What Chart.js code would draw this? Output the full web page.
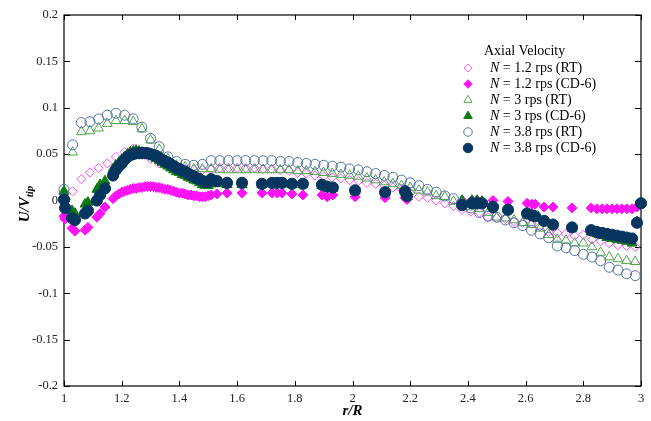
<!DOCTYPE html>
<html>
<head>
<meta charset="utf-8">
<script src="https://cdn.jsdelivr.net/npm/chart.js@4.4.0/dist/chart.umd.min.js"></script>
<style>
  html, body { margin: 0; padding: 0; background: #ffffff; }
  #wrap { width: 651px; height: 421px; position: relative; }
</style>
</head>
<body>
<div id="wrap"><canvas id="c" width="651" height="421"></canvas></div>
<script>
// Radial stations r/R for the RT (Rushton turbine) profiles
const rRT = [1.00, 1.03, 1.06, 1.09, 1.12, 1.15, 1.18, 1.21, 1.24, 1.27,
             1.30, 1.33, 1.36, 1.39, 1.42, 1.45, 1.48, 1.51, 1.54, 1.57,
             1.60, 1.63, 1.66, 1.69, 1.72, 1.75, 1.78, 1.81, 1.84, 1.87,
             1.90, 1.93, 1.96, 1.99, 2.02, 2.05, 2.08, 2.11, 2.14, 2.17,
             2.20, 2.23, 2.26, 2.29, 2.32, 2.35, 2.38, 2.41, 2.44, 2.47,
             2.50, 2.53, 2.56, 2.59, 2.62, 2.65, 2.68, 2.71, 2.74, 2.77,
             2.80, 2.83, 2.86, 2.89, 2.92, 2.95, 2.98];

// Axial velocity U/Vtip, RT impeller
const rt12 = [null, 0.010, 0.023, 0.030, 0.035, 0.040, 0.047, 0.052, 0.056, 0.051,
              0.045, 0.040, 0.037, 0.035, 0.034, 0.033, 0.033, 0.034, 0.035, 0.035,
              0.035, 0.035, 0.035, 0.034, 0.034, 0.033, 0.032, 0.030, 0.029, 0.027,
              0.026, 0.025, 0.024, 0.022, 0.021, 0.019, 0.018, 0.016, 0.014, 0.012,
              0.008, 0.004, 0.003, 0.000, -0.003, -0.006, -0.010, -0.012, -0.013, -0.018,
              -0.019, -0.020, -0.023, -0.024, -0.025, -0.028, -0.034, -0.035, -0.036, -0.038,
              -0.037, -0.042, -0.044, -0.046, -0.048, -0.049, -0.050];
const rt30 = [0.009, 0.052, 0.074, 0.075, 0.078, 0.083, 0.086, 0.086, 0.085, 0.077,
              0.065, 0.055, 0.045, 0.038, 0.036, 0.034, 0.034, 0.034, 0.033, 0.033,
              0.033, 0.033, 0.033, 0.033, 0.033, 0.033, 0.033, 0.032, 0.032, 0.031,
              0.030, 0.029, 0.028, 0.027, 0.026, 0.024, 0.022, 0.020, 0.018, 0.016,
              0.014, 0.011, 0.009, 0.005, 0.004, -0.001, -0.003, -0.007, -0.009, -0.013,
              -0.018, -0.019, -0.021, -0.024, -0.026, -0.030, -0.037, -0.042, -0.043, -0.046,
              -0.046, -0.050, -0.056, -0.061, -0.063, -0.065, -0.066];
const rt38 = [0.012, 0.060, 0.084, 0.085, 0.088, 0.092, 0.094, 0.092, 0.088, 0.079,
              0.067, 0.058, 0.047, 0.042, 0.039, 0.038, 0.039, 0.043, 0.043, 0.043,
              0.043, 0.043, 0.043, 0.043, 0.043, 0.042, 0.042, 0.041, 0.040, 0.039,
              0.038, 0.037, 0.036, 0.034, 0.033, 0.031, 0.029, 0.027, 0.025, 0.022,
              0.019, 0.016, 0.012, 0.009, 0.005, 0.002, -0.003, -0.008, -0.013, -0.017,
              -0.018, -0.021, -0.024, -0.027, -0.032, -0.036, -0.040, -0.049, -0.051, -0.054,
              -0.058, -0.061, -0.065, -0.072, -0.075, -0.079, -0.081];

// Radial stations r/R for the CD-6 profiles
const rCD = [1.000, 1.004, 1.028, 1.038, 1.073, 1.083, 1.114, 1.125, 1.142, 1.170,
             1.180, 1.19, 1.20, 1.21, 1.22, 1.23, 1.24, 1.25, 1.26, 1.27,
             1.28, 1.29, 1.30, 1.31, 1.32, 1.33, 1.34, 1.35, 1.36, 1.37,
             1.38, 1.39, 1.40, 1.41, 1.42, 1.43, 1.44, 1.45, 1.46, 1.47,
             1.48, 1.49, 1.50, 1.51, 1.530, 1.565, 1.617, 1.686, 1.721, 1.738,
             1.756, 1.790, 1.828, 1.894, 1.912, 1.932, 2.009, 2.113, 2.182, 2.189,
             2.380, 2.414, 2.432, 2.449, 2.487, 2.539, 2.605, 2.622, 2.633, 2.664,
             2.695, 2.761, 2.827, 2.847, 2.865, 2.882, 2.900, 2.917, 2.934, 2.951,
             2.969, 2.986, 3.000];

// Axial velocity U/Vtip, CD-6 impeller
const cd12 = [-0.017, -0.020, -0.030, -0.033, -0.032, -0.029, -0.018, -0.014, -0.007, 0.002,
              0.005, 0.007, 0.009, 0.010, 0.011, 0.012, 0.013, 0.013, 0.014, 0.014,
              0.015, 0.015, 0.015, 0.015, 0.014, 0.014, 0.013, 0.012, 0.012, 0.011,
              0.010, 0.009, 0.008, 0.008, 0.007, 0.006, 0.006, 0.005, 0.005, 0.004,
              0.004, 0.004, 0.005, 0.006, 0.007, 0.008, 0.008, 0.008, 0.008, 0.008,
              0.008, 0.007, 0.006, 0.006, 0.004, 0.006, 0.004, 0.003, 0.003, 0.001,
              0.000, 0.000, 0.000, -0.001, 0.000, -0.001, -0.003, -0.004, -0.004, -0.007,
              -0.007, -0.008, -0.008, -0.009, -0.009, -0.009, -0.009, -0.009, -0.009, -0.009,
              -0.009, -0.007, -0.003];
const cd30 = [0.010, 0.004, -0.011, -0.014, -0.004, -0.002, 0.012, 0.017, 0.021, 0.034,
              0.038, 0.041, 0.044, 0.047, 0.050, 0.052, 0.053, 0.054, 0.053, 0.052,
              0.051, 0.050, 0.049, 0.047, 0.045, 0.043, 0.041, 0.039, 0.037, 0.035,
              0.033, 0.031, 0.030, 0.028, 0.027, 0.025, 0.024, 0.022, 0.021, 0.019,
              0.017, 0.016, 0.016, 0.018, 0.018, 0.017, 0.017, 0.017, 0.018, 0.018,
              0.018, 0.017, 0.017, 0.016, 0.014, 0.013, 0.010, 0.008, 0.009, 0.004,
              0.000, 0.000, 0.000, -0.001, -0.006, -0.010, -0.014, -0.016, -0.017, -0.022,
              -0.026, -0.030, -0.034, -0.036, -0.038, -0.040, -0.041, -0.042, -0.043, -0.044,
              -0.046, -0.023, -0.002];
const cd38 = [0.001, -0.008, -0.019, -0.021, -0.014, -0.011, 0.000, 0.006, 0.013, 0.027,
              0.033, 0.037, 0.040, 0.044, 0.047, 0.049, 0.050, 0.051, 0.051, 0.051,
              0.051, 0.051, 0.050, 0.049, 0.048, 0.046, 0.044, 0.042, 0.041, 0.039,
              0.037, 0.035, 0.034, 0.032, 0.031, 0.029, 0.027, 0.026, 0.024, 0.023,
              0.021, 0.020, 0.020, 0.023, 0.021, 0.019, 0.019, 0.018, 0.019, 0.019,
              0.019, 0.018, 0.018, 0.017, 0.015, 0.014, 0.011, 0.009, 0.010, 0.005,
              -0.005, -0.003, -0.003, -0.003, -0.007, -0.010, -0.014, -0.016, -0.017, -0.022,
              -0.026, -0.029, -0.032, -0.034, -0.035, -0.036, -0.037, -0.038, -0.039, -0.040,
              -0.041, -0.024, -0.003];

// Axis ticks
const xTickValues = [1, 1.2, 1.4, 1.6, 1.8, 2, 2.2, 2.4, 2.6, 2.8, 3];
const xTickLabels = ['1', '1.2', '1.4', '1.6', '1.8', '2', '2.2', '2.4', '2.6', '2.8', '3'];
const yTickValues = [-0.2, -0.15, -0.1, -0.05, 0, 0.05, 0.1, 0.15, 0.2];
const yTickLabels = ['-0.2', '-0.15', '-0.1', '-0.05', '0', '0.05', '0.1', '0.15', '0.2'];

// Legend entries (speed shown after an italic N)
const seriesSpeeds = ['1.2 rps (RT)', '1.2 rps (CD-6)', '3 rps (RT)', '3 rps (CD-6)', '3.8 rps (RT)', '3.8 rps (CD-6)'];

const SERIF = '"Liberation Serif", "Times New Roman", serif';

function toPoints(xs, ys) {
  const pts = [];
  for (let i = 0; i < xs.length; i++) {
    if (ys[i] !== null && ys[i] !== undefined) pts.push({ x: xs[i], y: ys[i] });
  }
  return pts;
}

const markerStyles = [
  { style: 'rectRot',  radius: 4.6, fill: 'rgba(0,0,0,0)', stroke: '#ff4dff', width: 1 },
  { style: 'rectRot',  radius: 5.0, fill: '#ff14f5',       stroke: '#ff14f5', width: 1 },
  { style: 'triangle', radius: 5.6, fill: 'rgba(0,0,0,0)', stroke: '#4fa64f', width: 1 },
  { style: 'triangle', radius: 5.8, fill: '#0d7a12',       stroke: '#0d7a12', width: 1 },
  { style: 'circle',   radius: 5.0, fill: 'rgba(0,0,0,0)', stroke: '#5274a0', width: 1 },
  { style: 'circle',   radius: 5.6, fill: '#06365f',       stroke: '#06365f', width: 1 }
];

const seriesData = [
  toPoints(rRT, rt12), toPoints(rCD, cd12),
  toPoints(rRT, rt30), toPoints(rCD, cd30),
  toPoints(rRT, rt38), toPoints(rCD, cd38)
];

const datasets = seriesData.map((pts, i) => ({
  label: 'N = ' + seriesSpeeds[i],
  data: pts,
  showLine: false,
  clip: false,
  order: 5 - i,
  pointStyle: markerStyles[i].style,
  pointRadius: markerStyles[i].radius,
  pointHoverRadius: markerStyles[i].radius,
  pointBackgroundColor: markerStyles[i].fill,
  pointBorderColor: markerStyles[i].stroke,
  pointBorderWidth: markerStyles[i].width
}));

function drawMarker(ctx, m, x, y) {
  const r = m.radius;
  ctx.save();
  ctx.beginPath();
  if (m.style === 'circle') {
    ctx.arc(x, y, r, 0, Math.PI * 2);
  } else if (m.style === 'rectRot') {
    ctx.moveTo(x, y - r); ctx.lineTo(x + r, y); ctx.lineTo(x, y + r); ctx.lineTo(x - r, y);
    ctx.closePath();
  } else {
    const s = r * Math.sin(Math.PI / 3), c = r * 0.5;
    ctx.moveTo(x, y - r); ctx.lineTo(x + s, y + c); ctx.lineTo(x - s, y + c);
    ctx.closePath();
  }
  ctx.fillStyle = m.fill;
  ctx.fill();
  ctx.lineWidth = m.width;
  ctx.strokeStyle = m.stroke;
  ctx.stroke();
  ctx.restore();
}

// Frame with inward tick marks on all four sides
const framePlugin = {
  id: 'frame',
  beforeDatasetsDraw(chart) {
    const { ctx, chartArea: a, scales } = chart;
    ctx.save();
    ctx.strokeStyle = '#000';
    ctx.lineWidth = 1.2;
    ctx.strokeRect(a.left, a.top, a.right - a.left, a.bottom - a.top);
    ctx.lineWidth = 1;
    ctx.beginPath();
    xTickValues.forEach(v => {
      const px = Math.round(scales.x.getPixelForValue(v)) + 0.5;
      ctx.moveTo(px, a.bottom); ctx.lineTo(px, a.bottom - 5);
      ctx.moveTo(px, a.top); ctx.lineTo(px, a.top + 5);
    });
    yTickValues.forEach(v => {
      const py = Math.round(scales.y.getPixelForValue(v)) + 0.5;
      ctx.moveTo(a.left, py); ctx.lineTo(a.left + 6, py);
      ctx.moveTo(a.right, py); ctx.lineTo(a.right - 6, py);
    });
    ctx.stroke();
    ctx.restore();
  },
  afterDraw(chart) {
    const { ctx, chartArea: a } = chart;
    ctx.save();
    ctx.fillStyle = '#000';
    // x axis title
    ctx.font = 'italic bold 15px ' + SERIF;
    ctx.textAlign = 'center';
    ctx.textBaseline = 'middle';
    ctx.fillText('r/R', (a.left + a.right) / 2, 411);
    // y axis title with subscript
    ctx.translate(29, 204);
    ctx.rotate(-Math.PI / 2);
    ctx.textAlign = 'left';
    ctx.textBaseline = 'alphabetic';
    ctx.font = 'italic bold 15px ' + SERIF;
    const main = 'U/V';
    const wMain = ctx.measureText(main).width;
    ctx.font = 'italic bold 11px ' + SERIF;
    const wSub = ctx.measureText('tip').width;
    const x0 = -(wMain + wSub) / 2;
    ctx.font = 'italic bold 15px ' + SERIF;
    ctx.fillText(main, x0, 0);
    ctx.font = 'italic bold 11px ' + SERIF;
    ctx.fillText('tip', x0 + wMain, 4);
    ctx.restore();

    // legend
    ctx.save();
    ctx.fillStyle = '#000';
    ctx.textBaseline = 'middle';
    ctx.textAlign = 'left';
    ctx.font = '14px ' + SERIF;
    ctx.fillText('Axial Velocity', 484, 51);
    const rows = [68, 84, 100, 116, 132, 148];
    seriesSpeeds.forEach((txt, i) => {
      const m = Object.assign({}, markerStyles[i], { radius: markerStyles[i].radius * 0.85 });
      drawMarker(ctx, m, 468, rows[i]);
      ctx.font = 'italic 14px ' + SERIF;
      ctx.fillText('N', 490, rows[i]);
      const wN = ctx.measureText('N').width;
      ctx.font = '14px ' + SERIF;
      ctx.fillText(' = ' + txt, 490 + wN, rows[i]);
    });
    ctx.restore();
  }
};

new Chart(document.getElementById('c'), {
  type: 'scatter',
  data: { datasets },
  options: {
    responsive: false,
    animation: false,
    events: [],
    layout: { padding: { top: 15, right: 10, left: 0, bottom: 0 } },
    plugins: { legend: { display: false }, tooltip: { enabled: false } },
    scales: {
      x: {
        type: 'linear', min: 1, max: 3,
        afterBuildTicks: s => { s.ticks = xTickValues.map(v => ({ value: v })); },
        afterFit: s => { s.height = 35; },
        grid: { display: false, drawTicks: false },
        border: { display: false },
        ticks: {
          autoSkip: false, maxRotation: 0, padding: 5, color: '#222',
          font: { family: SERIF, size: 12.5 },
          callback: (v, i) => xTickLabels[i]
        }
      },
      y: {
        type: 'linear', min: -0.2, max: 0.2,
        afterBuildTicks: s => { s.ticks = yTickValues.map(v => ({ value: v })); },
        afterFit: s => { s.width = 64; },
        grid: { display: false, drawTicks: false },
        border: { display: false },
        ticks: {
          autoSkip: false, padding: 6, color: '#222',
          font: { family: SERIF, size: 12.5 },
          callback: (v, i) => yTickLabels[i]
        }
      }
    }
  },
  plugins: [framePlugin]
});
</script>
</body>
</html>
